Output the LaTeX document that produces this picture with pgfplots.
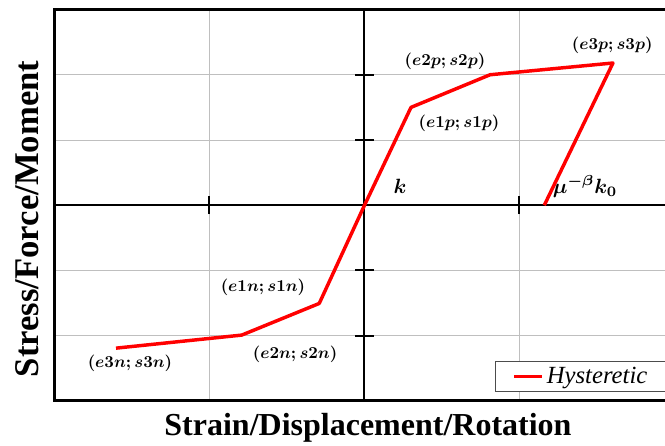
\documentclass[border=0pt]{standalone}
\usepackage{fontspec}
\setmainfont{Liberation Serif}
\usepackage{pgfplots}
\pgfplotsset{compat=1.18}
\begin{document}
\begin{tikzpicture}
\begin{axis}[
  at={(0,0)}, anchor=south west,
  scale only axis, width=465pt, height=293.625pt,
  xmin=-2, xmax=2, ymin=-3, ymax=3,
  axis lines=center,
  axis line style={-, black, line width=1.5pt},
  xtick={-1,1}, ytick={-2,-1,1,2},
  xticklabels={}, yticklabels={},
  tick align=center, major tick length=13.5pt,
  tick style={black, line width=1.5pt},
  grid=major, grid style={gray!50, line width=0.75pt},
  set layers, clip=false,
  legend style={at={(rel axis cs:1,0)}, anchor=south east, xshift=-5pt, yshift=6.75pt,
    draw=black!70, line width=0.75pt, inner xsep=13pt, inner ysep=2.5pt,
    font=\fontsize{18.5}{20}\selectfont\itshape},
  legend image code/.code={\draw[#1] (0pt,0pt) -- (21pt,0pt);},
]
\addplot[red, line width=2.6pt, line join=round] coordinates {
  (-1.603,-2.19) (-0.792,-1.99) (-0.292,-1.505) (0,0) (0.300,1.50)
  (0.810,2.00) (1.603,2.18) (1.16,0)
};
\addlegendentry{Hysteretic}
\draw[black, line width=2.25pt] (rel axis cs:0,0) rectangle (rel axis cs:1,1);
\begin{scope}[every node/.style={font=\boldmath}]
\node at (axis cs:1.598,2.45) {\scalebox{1.25}{$(e3p; s3p)$}};
\node at (axis cs:0.519,2.205) {\scalebox{1.25}{$(e2p; s2p)$}};
\node at (axis cs:0.610,1.256) {\scalebox{1.25}{$(e1p; s1p)$}};
\node at (axis cs:0.229,0.291) {\scalebox{1.55}{$k$}};
\node at (axis cs:1.423,0.291) {\scalebox{1.55}{$\mu^{-\beta}k_0$}};
\node at (axis cs:-0.655,-1.256) {\scalebox{1.25}{$(e1n; s1n)$}};
\node at (axis cs:-0.448,-2.282) {\scalebox{1.25}{$(e2n; s2n)$}};
\node at (axis cs:-1.513,-2.42) {\scalebox{1.25}{$(e3n; s3n)$}};
\end{scope}
\node[font=\fontsize{24}{26}\selectfont\bfseries] at ([yshift=-20.25pt]rel axis cs:0.5056,0) {Strain/Displacement/Rotation};
\node[font=\fontsize{26}{28}\selectfont\bfseries, rotate=90] at ([xshift=-20.6pt]rel axis cs:0,0.465) {Stress/Force/Moment};
\end{axis}
\pgfresetboundingbox
\path[use as bounding box] (-40.875pt,-33.75pt) rectangle (457.875pt,300.75pt);
\end{tikzpicture}
\end{document}
